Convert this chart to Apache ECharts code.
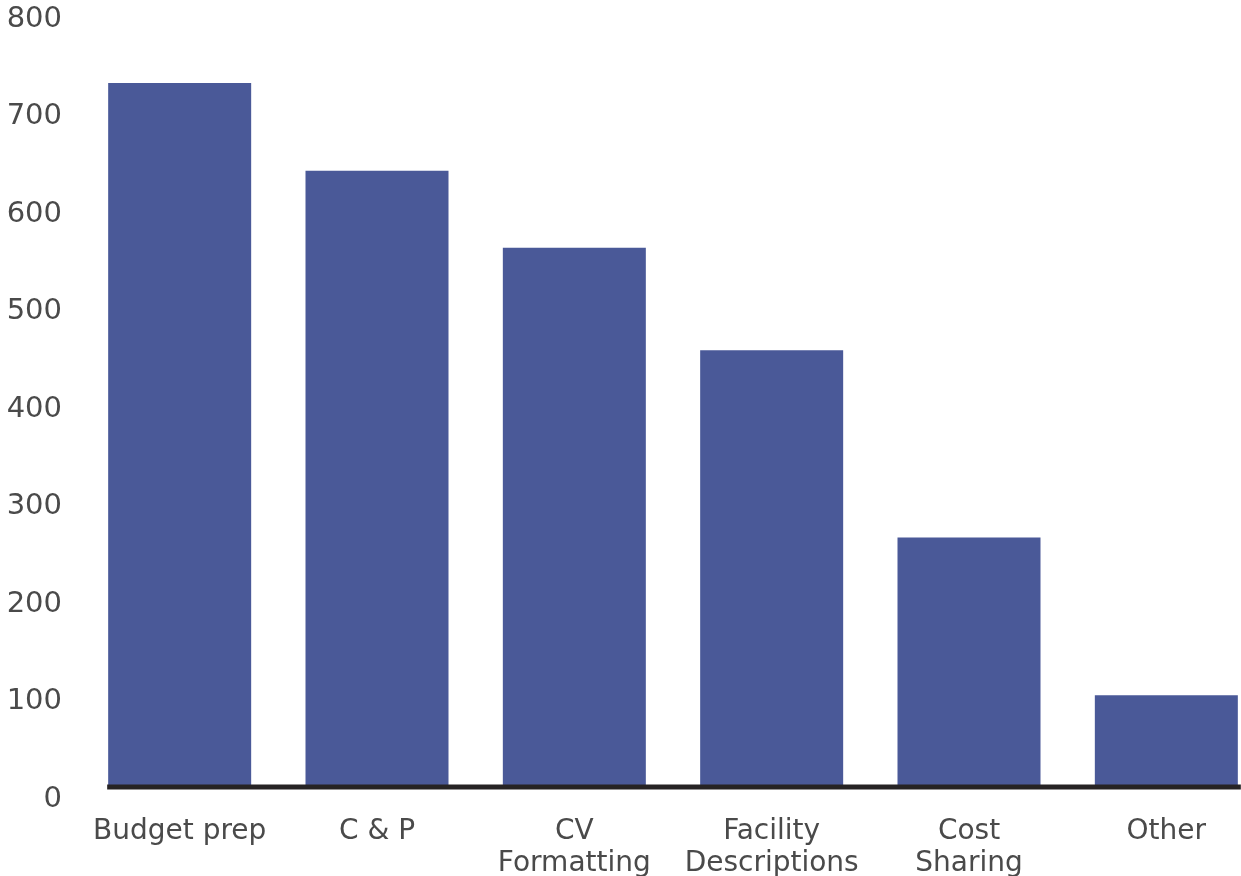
<!DOCTYPE html>
<html>
<head>
<meta charset="utf-8">
<script src="https://cdn.jsdelivr.net/npm/echarts@6/dist/echarts.min.js"></script>
<style>
html,body{margin:0;padding:0;background:#fff;}
#chart{width:1241px;height:876px;}
</style>
</head>
<body>
<div id="chart"></div>
<script>
const categories = ['Budget prep', 'C & P', 'CV\nFormatting', 'Facility\nDescriptions', 'Cost\nSharing', 'Other'];
const values = [722, 632, 553, 448, 256, 94];
const yTicks = { min: 0, max: 800, interval: 100 };

const chart = echarts.init(document.getElementById('chart'), null, { renderer: 'canvas' });
const FONT = 'DejaVu Sans';
const BAR_W = 143;
chart.setOption({
  animation: false,
  backgroundColor: '#ffffff',
  grid: { left: 81, width: 1184, top: 7, height: 780, containLabel: false, outerBoundsMode: 'none' },
  xAxis: {
    type: 'category',
    data: categories,
    axisLine: { show: false },
    axisTick: { show: false },
    axisLabel: {
      interval: 0,
      margin: 29,
      fontFamily: FONT,
      fontSize: 28,
      fontWeight: 'normal',
      color: '#4a4a4a',
      lineHeight: 32,
      hideOverlap: false
    }
  },
  yAxis: {
    type: 'value',
    min: yTicks.min,
    max: yTicks.max,
    interval: yTicks.interval,
    axisLine: { show: false },
    axisTick: { show: false },
    splitLine: { show: false },
    axisLabel: {
      margin: 19,
      fontFamily: FONT,
      fontSize: 29,
      fontWeight: 'normal',
      color: '#4a4a4a',
      verticalAlign: 'top',
      lineHeight: 24
    }
  },
  series: [{
    type: 'bar',
    data: values,
    barWidth: BAR_W,
    itemStyle: { color: '#4a5998' }
  }]
});

const y0 = chart.convertToPixel({ yAxisIndex: 0 }, 0);
const xFirst = chart.convertToPixel({ xAxisIndex: 0 }, categories[0]) - BAR_W / 2 - 1;
const xLast = chart.convertToPixel({ xAxisIndex: 0 }, categories[categories.length - 1]) + BAR_W / 2 + 3;
chart.setOption({
  graphic: [{
    type: 'line',
    shape: { x1: xFirst, y1: y0, x2: xLast, y2: y0 },
    style: { stroke: '#262324', lineWidth: 5 },
    z: 10
  }]
});
</script>
</body>
</html>
